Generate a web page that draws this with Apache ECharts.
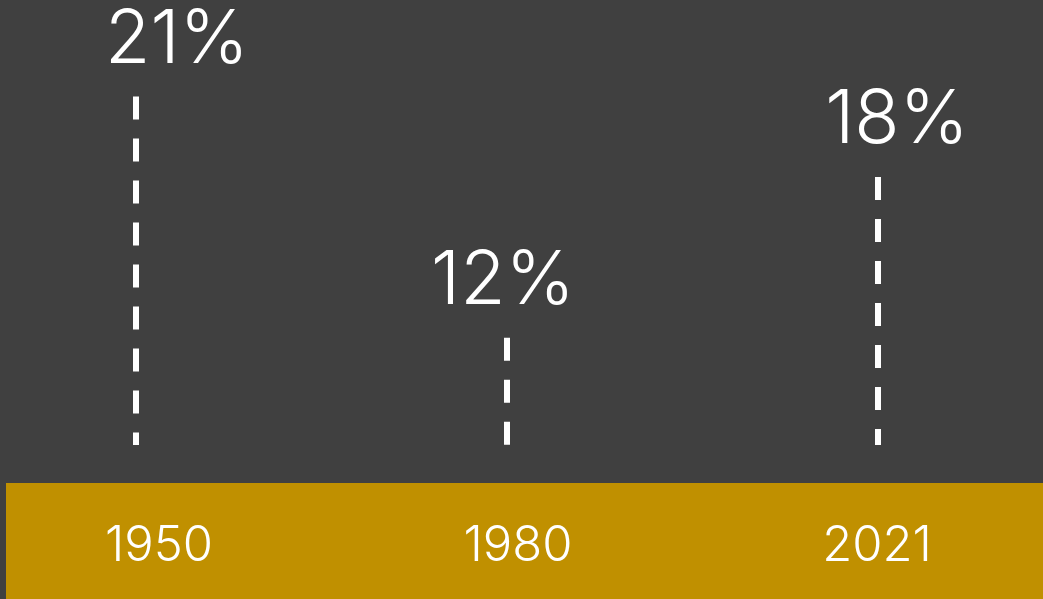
<!DOCTYPE html>
<html>
<head>
<meta charset="utf-8">
<script src="https://cdn.jsdelivr.net/npm/echarts@6/dist/echarts.min.js"></script>
<style>
  html, body { margin: 0; padding: 0; background: #404040; }
  #chart { width: 1043px; height: 599px; }
</style>
</head>
<body>
<div id="chart"></div>
<script>
  const years = ['1950', '1980', '2021']
  const shares = [21, 12, 18]

  // small sideways nudges for the % labels (px)
  const labelNudge = [41, -4, 19]

  const chart = echarts.init(document.getElementById('chart'))
  const yMin = 8

  chart.setOption({
    backgroundColor: '#404040',
    animation: false,
    graphic: [
      {
        type: 'rect',
        shape: { x: 6, y: 483, width: 1037, height: 116 },
        style: { fill: '#c09000' },
        z: 0,
      },
    ],
    grid: [
      { left: 136, right: 165, top: 16, bottom: 154 },
      { left: 159, right: 166, top: 483, bottom: 0 },
    ],
    xAxis: [
      {
        type: 'category',
        data: years,
        boundaryGap: false,
        show: false,
      },
      {
        type: 'category',
        gridIndex: 1,
        data: years,
        boundaryGap: false,
        position: 'top',
        axisLine: { show: false },
        axisTick: { show: false },
        axisLabel: {
          inside: true,
          margin: 39,
          color: '#ffffff',
          fontSize: 49,
          fontWeight: 300,
          fontFamily: 'Inter',
        },
        z: 5,
      },
    ],
    yAxis: [
      { type: 'value', min: yMin, max: 24, show: false },
      { type: 'value', gridIndex: 1, show: false },
    ],
    series: [
      {
        type: 'custom',
        data: shares.map((v, i) => [i, v]),
        renderItem: function (params, api) {
          const i = api.value(0)
          const top = api.coord([i, api.value(1)])
          const bottom = api.coord([i, yMin])
          return {
            type: 'group',
            children: [
              {
                type: 'line',
                shape: { x1: top[0], y1: top[1], x2: bottom[0], y2: bottom[1] },
                style: { stroke: '#ffffff', lineWidth: 6, lineDash: [23, 19] },
              },
              {
                type: 'text',
                x: top[0] + labelNudge[params.dataIndex],
                y: top[1] - 19,
                style: {
                  text: api.value(1) + '%',
                  fill: '#ffffff',
                  font: '300 74px Inter',
                  textAlign: 'center',
                  textVerticalAlign: 'bottom',
                },
              },
            ],
          }
        },
      },
    ],
  })
</script>
</body>
</html>
